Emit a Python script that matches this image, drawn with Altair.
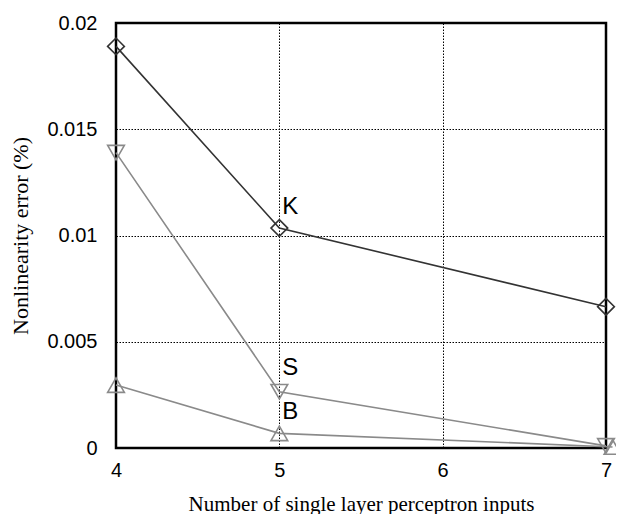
import altair as alt
import pandas as pd

inputs_k = [4, 5, 7]
error_k = [0.0189, 0.01035, 0.00665]
inputs_s = [4, 5, 7]
error_s = [0.0139, 0.00265, 0.0001]
inputs_b = [4, 5, 7.04]
error_b = [0.00296, 0.00069, 0.00005]
series_names = ["K", "S", "B"]
series_colors = ["#333333", "#8a8a8a", "#8a8a8a"]
series_shapes = ["diamond", "triangle-down", "triangle-up"]
label_dy = [-21, -24, -21]

rows = []
for name, xs, ys in zip(series_names, [inputs_k, inputs_s, inputs_b], [error_k, error_s, error_b]):
    for xv, yv in zip(xs, ys):
        rows.append({"series": name, "inputs": xv, "error": yv})
df = pd.DataFrame(rows)

x = alt.X("inputs:Q", scale=alt.Scale(domain=[4, 7], nice=False, zero=False),
          axis=alt.Axis(values=[4, 5, 6, 7], title="Number of single layer perceptron inputs",
                        labelFont="Liberation Sans", labelFontSize=20, labelColor="black",
                        labelFlush=False,
                        titleFont="Liberation Serif", titleFontSize=21, titleFontWeight="normal",
                        titleColor="black", labelPadding=12, titlePadding=13, ticks=False,
                        domain=False, grid=True, gridDash=[1.5, 1.5], gridColor="black",
                        gridOpacity=1, gridWidth=1))
y = alt.Y("error:Q", scale=alt.Scale(domain=[0, 0.02], nice=False),
          axis=alt.Axis(values=[0, 0.005, 0.01, 0.015, 0.02], format="~g",
                        title="Nonlinearity error (%)",
                        labelFont="Liberation Sans", labelFontSize=20, labelColor="black",
                        labelFlush=False,
                        titleFont="Liberation Serif", titleFontSize=22, titleFontWeight="normal",
                        titleColor="black", labelPadding=19, titlePadding=14, ticks=False,
                        domain=False, grid=True, gridDash=[1.5, 1.5], gridColor="black",
                        gridOpacity=1, gridWidth=1))

color = alt.Color("series:N", scale=alt.Scale(domain=series_names, range=series_colors), legend=None)
shape = alt.Shape("series:N", scale=alt.Scale(domain=series_names, range=series_shapes), legend=None)

base = alt.Chart(df)
lines = base.mark_line(strokeWidth=1.6).encode(x=x, y=y, color=color, detail="series:N")
points = base.mark_point(filled=False, size=280, strokeWidth=1.6, opacity=1).encode(
    x=x, y=y, color=color, shape=shape)

labels = []
for name, dy in zip(series_names, label_dy):
    lab = base.transform_filter(
        (alt.datum.series == name) & (alt.datum.inputs == 5)
    ).mark_text(font="Liberation Sans", fontSize=24, color="black", dx=11, dy=dy,
                align="center", baseline="middle").encode(x=x, y=y, text="series:N")
    labels.append(lab)

chart = alt.layer(lines, points, *labels).properties(
    width=490, height=425,
    autosize=alt.AutoSizeParams(type="none"),
    padding={"left": 108, "top": 15, "right": 10, "bottom": 66},
).configure_view(stroke="black", strokeWidth=2.5)

chart.save("out.html", embed_options={"renderer": "svg", "actions": False})
